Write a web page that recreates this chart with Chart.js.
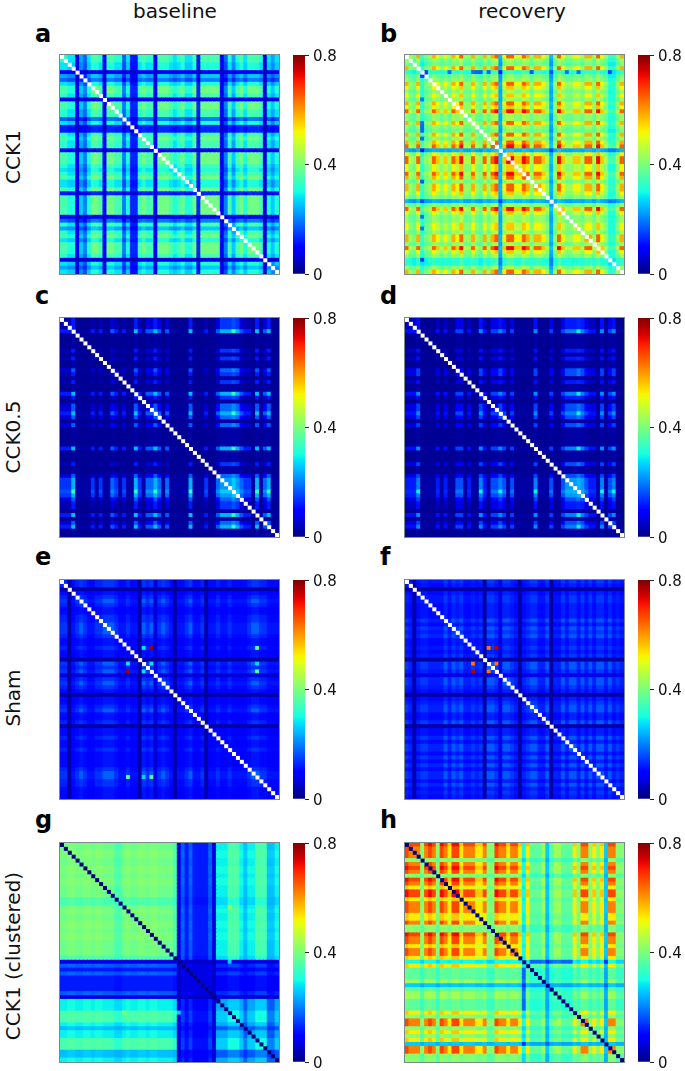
<!DOCTYPE html>
<html>
<head>
<meta charset="utf-8">
<script src="https://cdn.jsdelivr.net/npm/chart.js@4"></script>
<style>
  body { margin: 0; background: #fff; width: 685px; height: 1071px; position: relative; overflow: hidden; font-family: "DejaVu Sans", sans-serif; color: #111; }
  canvas { position: absolute; }
  .txt { position: absolute; white-space: nowrap; line-height: 1; }
  .head { font-size: 20px; transform: translateX(-50%); }
  .side { font-size: 20px; transform: translate(-50%, -50%) rotate(-90deg); }
  .tag { font-size: 24px; font-weight: bold; color: #000; }
</style>
</head>
<body>
<script>
// band of each node (row/column) per panel
const groupsA = "6655143577" + "6177663522" + "6766177765" + "6755727777" + "7136467577" + "760545";
const groupsB = "5325123543" + "4354633532" + "5356046644" + "6535543036" + "4334435536" + "431135";
const groupsC = "1113000010" + "1002101003" + "1022320200" + "0003000100" + "2444542110" + "302300";
const groupsD = "1113000010" + "1002201003" + "1022320200" + "0003000200" + "2444542110" + "302300";
const groupsE = "2201232112" + "2333211211" + "0323423210" + "1123112011" + "2112111123" + "322111";
const groupsF = "2101221111" + "3132311212" + "0332433210" + "1233113011" + "3133131313" + "313121";
const groupsG = "1100110010" + "0111221011" + "0010011112" + "3454555543" + "7776667877" + "666887";
const groupsH = "0111310130" + "1200211122" + "1330112112" + "4266675677" + "6662311323" + "251133";

// connectivity level between two bands
const levelsA = [
  [.03, .03, .04, .05, .06, .06, .07, .07],
  [.03, .04, .05, .06, .07, .08, .09, .10],
  [.04, .05, .06, .07, .09, .11, .12, .13],
  [.05, .06, .07, .10, .13, .16, .18, .20],
  [.06, .07, .09, .13, .17, .21, .23, .26],
  [.06, .08, .11, .16, .21, .26, .28, .31],
  [.07, .09, .12, .18, .23, .28, .32, .35],
  [.07, .10, .13, .20, .26, .31, .35, .39]
];
const levelsB = [
  [.15, .20, .22, .23, .24, .25, .26],
  [.20, .28, .29, .31, .31, .33, .35],
  [.22, .29, .34, .36, .38, .40, .42],
  [.23, .31, .36, .38, .41, .43, .45],
  [.24, .31, .38, .41, .46, .52, .56],
  [.25, .33, .40, .43, .52, .58, .65],
  [.26, .35, .42, .45, .56, .65, .72]
];
const levelsC = [
  [.015, .015, .02, .025, .025, .03],
  [.015, .035, .06, .12, .14, .16],
  [.02, .06, .09, .17, .18, .21],
  [.025, .12, .17, .25, .24, .32],
  [.025, .14, .18, .24, .22, .26],
  [.03, .16, .21, .32, .26, .29]
];
const levelsD = [
  [.015, .015, .02, .025, .025, .03],
  [.015, .045, .07, .11, .12, .13],
  [.02, .07, .10, .15, .16, .19],
  [.025, .11, .15, .21, .20, .29],
  [.025, .12, .16, .20, .22, .24],
  [.03, .13, .19, .29, .24, .28]
];
const levelsE = [
  [.015, .025, .03, .03, .02],
  [.025, .10, .105, .115, .06],
  [.03, .105, .125, .14, .065],
  [.03, .115, .14, .175, .07],
  [.02, .06, .065, .07, .05]
];
const levelsF = [
  [.015, .025, .03, .03, .02],
  [.025, .105, .115, .125, .07],
  [.03, .115, .125, .145, .075],
  [.03, .125, .145, .17, .08],
  [.02, .07, .075, .08, .05]
];
const levelsG = [
  [.41, .40, .36, .07, .18, .12, .36, .30, .26],
  [.40, .385, .35, .07, .17, .12, .35, .29, .25],
  [.36, .35, .33, .07, .16, .11, .32, .27, .24],
  [.07, .07, .07, .04, .05, .05, .07, .07, .06],
  [.18, .17, .16, .05, .09, .07, .15, .13, .11],
  [.12, .12, .11, .05, .07, .07, .11, .10, .09],
  [.36, .35, .32, .07, .15, .11, .30, .26, .20],
  [.30, .29, .27, .07, .13, .10, .26, .23, .17],
  [.26, .25, .24, .06, .11, .09, .20, .17, .14]
];
const levelsH = [
  [.72, .67, .56, .42, .30, .26, .38, .44],
  [.67, .62, .53, .41, .30, .26, .37, .43],
  [.56, .53, .48, .39, .29, .25, .36, .40],
  [.42, .41, .39, .36, .27, .24, .33, .36],
  [.30, .30, .29, .27, .12, .14, .18, .20],
  [.26, .26, .25, .24, .14, .18, .23, .24],
  [.38, .37, .36, .33, .18, .23, .31, .33],
  [.44, .43, .40, .36, .20, .24, .33, .36]
];

// single cells that stand out from their band: node, node, value
const spotsB = [[4, 5, .15], [4, 11, .19], [4, 17, .19], [4, 18, .18], [4, 19, .18], [4, 21, .18], [4, 24, .12], [4, 32, .17], [4, 37, .16], [4, 41, .19], [4, 44, .19], [4, 52, .15]];
const spotsE = [[17, 21, .28], [17, 23, .78], [17, 50, .37], [21, 23, .28], [21, 50, .27], [23, 50, .36]];
const spotsF = [[17, 21, .63], [17, 23, .76], [21, 23, .63]];
const spotsG = [[16, 43, .42], [30, 43, .26]];

const colHeads = ["baseline", "recovery"];
const rowHeads = ["CCK1", "CCK0.5", "Sham", "CCK1 (clustered)"];
const tags = ["a", "b", "c", "d", "e", "f", "g", "h"];
const barTicks = [0, 0.4, 0.8];

const maxValue = 0.8;
const panelSize = 219;
const cols = [60, 405];
const rows = [55, 318, 580, 843];
const headX = [175, 522];
const rowHeadY = [157, 437, 698, 956];
const tagBase = [42, 304, 565, 828];

const panels = [
  { groups: groupsA, levels: levelsA, spots: [], diag: "#ffffff" },
  { groups: groupsB, levels: levelsB, spots: spotsB, diag: "#ffffff" },
  { groups: groupsC, levels: levelsC, spots: [], diag: "#ffffff" },
  { groups: groupsD, levels: levelsD, spots: [], diag: "#ffffff" },
  { groups: groupsE, levels: levelsE, spots: spotsE, diag: "#ffffff" },
  { groups: groupsF, levels: levelsF, spots: spotsF, diag: "#ffffff" },
  { groups: groupsG, levels: levelsG, spots: spotsG, diag: "#00007f" },
  { groups: groupsH, levels: levelsH, spots: [], diag: "#00007f" }
];

// matplotlib jet
function seg(t, pts) {
  for (let i = 1; i < pts.length; i++) {
    if (t <= pts[i][0]) {
      const a = pts[i - 1], b = pts[i];
      return a[1] + (b[1] - a[1]) * (t - a[0]) / (b[0] - a[0]);
    }
  }
  return pts[pts.length - 1][1];
}
function jet(t) {
  t = Math.min(1, Math.max(0, t));
  const r = seg(t, [[0, 0], [.35, 0], [.66, 1], [.89, 1], [1, .5]]);
  const g = seg(t, [[0, 0], [.125, 0], [.375, 1], [.64, 1], [.91, 0], [1, 0]]);
  const b = seg(t, [[0, .5], [.11, 1], [.34, 1], [.65, 0], [1, 0]]);
  return `rgb(${Math.round(r * 255)},${Math.round(g * 255)},${Math.round(b * 255)})`;
}

function addCanvas(x, y, w, h) {
  const c = document.createElement("canvas");
  c.width = w;
  c.height = h;
  c.style.left = x + "px";
  c.style.top = y + "px";
  c.style.filter = "blur(0.4px)";
  document.body.appendChild(c);
  return c;
}

function addText(cls, text, x, y) {
  const d = document.createElement("div");
  d.className = "txt " + cls;
  d.textContent = text;
  d.style.left = x + "px";
  d.style.top = y + "px";
  document.body.appendChild(d);
}

function drawPanel(p, x, y) {
  const n = p.groups.length;
  const cells = [], colors = [], diagonal = [];
  for (let i = 0; i < n; i++) {
    for (let j = 0; j < n; j++) {
      if (i === j) {
        diagonal.push({ x: j, y: i });
        continue;
      }
      cells.push({ x: j, y: i });
      let v = p.levels[+p.groups[i]][+p.groups[j]];
      for (const s of p.spots) {
        if ((s[0] === i && s[1] === j) || (s[0] === j && s[1] === i)) v = s[2];
      }
      colors.push(jet(v / maxValue));
    }
  }
  const half = panelSize / n / 2;
  const canvas = addCanvas(x, y, panelSize, panelSize);
  canvas.style.outline = "1px solid #7a8a8a";
  new Chart(canvas, {
    type: "scatter",
    data: {
      datasets: [
        { data: diagonal, pointStyle: "rect", pointRadius: (half + 0.05) * Math.SQRT2, pointBorderWidth: 0, pointBackgroundColor: p.diag },
        { data: cells, pointStyle: "rect", pointRadius: (half + 0.5) * Math.SQRT2, pointBorderWidth: 0, pointBackgroundColor: colors }
      ]
    },
    options: {
      responsive: false,
      animation: false,
      events: [],
      layout: { padding: 0, autoPadding: false },
      plugins: { legend: { display: false }, tooltip: { enabled: false } },
      scales: {
        x: { display: false, min: -0.5, max: n - 0.5 },
        y: { display: false, min: -0.5, max: n - 0.5, reverse: true }
      }
    }
  });
}

function drawColorbar(x, y) {
  const canvas = addCanvas(x, y - 20, 52, panelSize + 40);
  new Chart(canvas, {
    type: "bar",
    data: {
      labels: [""],
      datasets: [{
        data: [[0, maxValue]],
        barPercentage: 1,
        categoryPercentage: 1,
        borderWidth: 0,
        backgroundColor: (ctx) => {
          const area = ctx.chart.chartArea;
          if (!area) return "#000";
          const g = ctx.chart.ctx.createLinearGradient(0, area.bottom, 0, area.top);
          for (let i = 0; i <= 40; i++) g.addColorStop(i / 40, jet(i / 40));
          return g;
        }
      }]
    },
    options: {
      responsive: false,
      animation: false,
      events: [],
      layout: { padding: { top: 20, bottom: 20, left: 0, right: 0 }, autoPadding: false },
      plugins: { legend: { display: false }, tooltip: { enabled: false } },
      scales: {
        x: { display: false },
        y: {
          position: "right",
          min: 0,
          max: maxValue,
          afterFit: (s) => { s.width = 40; },
          afterBuildTicks: (s) => { s.ticks = barTicks.map((v) => ({ value: v })); },
          grid: { drawOnChartArea: false, tickLength: 4, tickColor: "#222", tickWidth: 1 },
          border: { display: false },
          ticks: {
            color: "#111",
            padding: 4,
            labelOffset: 2,
            font: { family: "DejaVu Sans", size: 15 },
            callback: (v) => String(v)
          }
        }
      }
    }
  });
}

colHeads.forEach((t, c) => addText("head", t, headX[c], 1));
rowHeads.forEach((t, r) => addText("side", t, 13, rowHeadY[r]));

panels.forEach((p, k) => {
  const c = k % 2, r = Math.floor(k / 2);
  drawPanel(p, cols[c], rows[r]);
  drawColorbar(cols[c] + 233, rows[r]);
  addText("tag", tags[k], cols[c] - 25, tagBase[r] - 20);
});
</script>
</body>
</html>
